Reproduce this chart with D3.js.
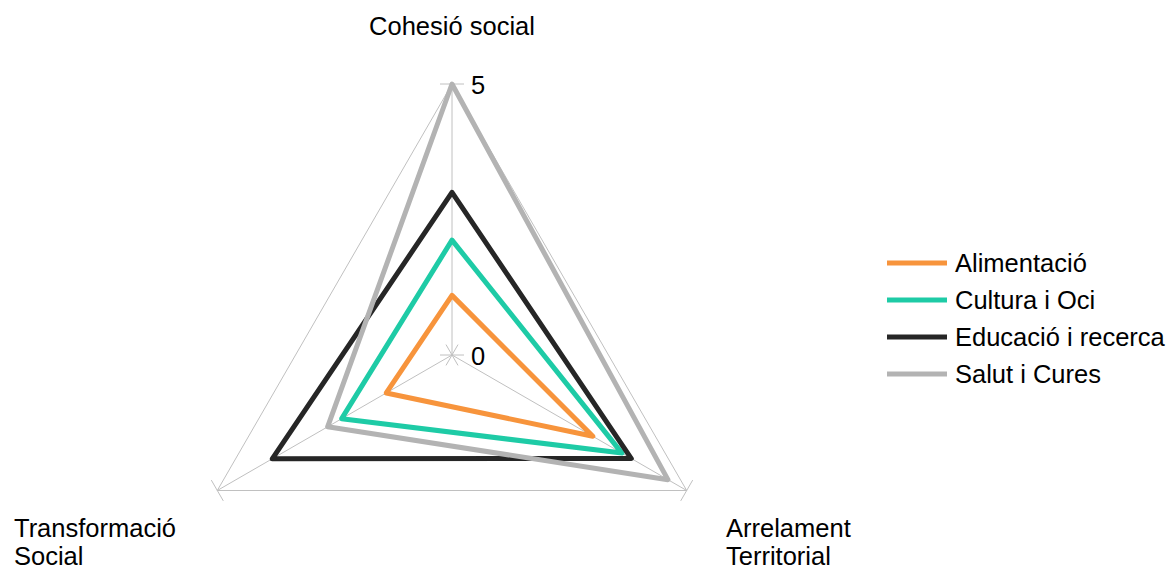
<!DOCTYPE html>
<html>
<head>
<meta charset="utf-8">
<script src="https://cdn.jsdelivr.net/npm/d3@7.9.0/dist/d3.min.js"></script>
<style>
  body { margin: 0; background: #fff; }
  svg { display: block; font-family: "Liberation Sans", Arial, sans-serif; }
</style>
</head>
<body>
<svg width="1174" height="570"></svg>
<script>
// axes (clockwise from the top)
const axes = ["Cohesió social", "Arrelament Territorial", "Transformació Social"];
const seriesNames = ["Alimentació", "Cultura i Oci", "Educació i recerca", "Salut i Cures"];
const alimentacio = [1.1, 3.0, 1.4];
const culturaOci = [2.12, 3.62, 2.35];
const educacio = [3.0, 3.82, 3.83];
const salutCures = [5.0, 4.6, 2.65];
const seriesValues = [alimentacio, culturaOci, educacio, salutCures];
const colors = ["#f7943c", "#1ecba6", "#262626", "#b3b3b3"];
const tickLabels = [0, 5];

const svg = d3.select("svg");
const cx = 452, cy = 355, R = 271;
const fontSize = 25.5;
const r = d3.scaleLinear().domain([0, 5]).range([0, R]);
const angle = (i) => (i * 2 * Math.PI) / axes.length; // 0 = up
const pt = (i, v) => [cx + r(v) * Math.sin(angle(i)), cy - r(v) * Math.cos(angle(i))];

const grid = svg.append("g").attr("stroke", "#c0c0c0").attr("stroke-width", 1).attr("fill", "none");

// outer ring
grid.append("path")
  .attr("d", d3.line()(axes.map((_, i) => pt(i, 5))) + "Z");

// spokes + perpendicular ticks at 0 and 5
axes.forEach((_, i) => {
  const [x0, y0] = pt(i, 0), [x1, y1] = pt(i, 5);
  grid.append("line").attr("x1", x0).attr("y1", y0).attr("x2", x1).attr("y2", y1);
  const a = angle(i);
  const px = Math.cos(a), py = Math.sin(a);
  tickLabels.forEach((t) => {
    const [tx, ty] = pt(i, t);
    grid.append("line")
      .attr("x1", tx - px * 12).attr("y1", ty - py * 12)
      .attr("x2", tx + px * 12).attr("y2", ty + py * 12);
  });
});

// tick labels on the top axis
svg.selectAll(".tick-label").data(tickLabels).join("text")
  .attr("x", cx + 19)
  .attr("y", (d) => cy - r(d) + 10)
  .attr("font-size", fontSize)
  .attr("fill", "#000")
  .text((d) => d);

// series
const line = d3.line().curve(d3.curveLinearClosed);
seriesValues.forEach((vals, s) => {
  svg.append("path")
    .attr("d", line(vals.map((v, i) => pt(i, v))))
    .attr("fill", "none")
    .attr("stroke", colors[s])
    .attr("stroke-width", 5)
    .attr("stroke-linejoin", "round");
});

// axis labels
const labelPos = [
  { x: 452, y: 35, anchor: "middle", lines: ["Cohesió social"] },
  { x: 726, y: 537, anchor: "start", lines: ["Arrelament", "Territorial"] },
  { x: 14, y: 537, anchor: "start", lines: ["Transformació", "Social"] }
];
labelPos.forEach((p) => {
  const t = svg.append("text")
    .attr("x", p.x).attr("y", p.y)
    .attr("text-anchor", p.anchor)
    .attr("font-size", fontSize)
    .attr("fill", "#000");
  p.lines.forEach((l, k) => {
    t.append("tspan").attr("x", p.x).attr("dy", k === 0 ? 0 : 28).text(l);
  });
});

// legend
const legend = svg.append("g").attr("transform", "translate(887,263)");
seriesNames.forEach((name, s) => {
  const g = legend.append("g").attr("transform", `translate(0,${s * 37})`);
  g.append("line").attr("x1", 0).attr("x2", 60).attr("y1", 0).attr("y2", 0)
    .attr("stroke", colors[s]).attr("stroke-width", 5);
  g.append("text").attr("x", 68).attr("y", 9).attr("font-size", fontSize).attr("fill", "#000").text(name);
});
</script>
</body>
</html>
